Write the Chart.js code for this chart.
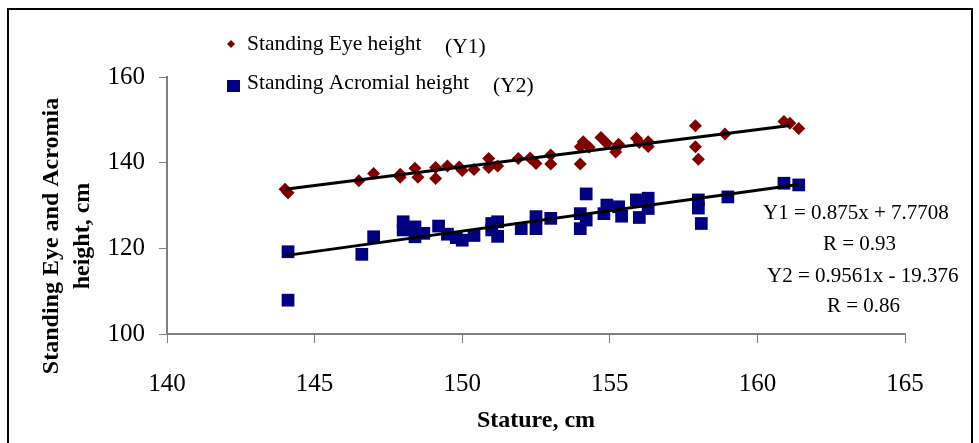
<!DOCTYPE html>
<html>
<head>
<meta charset="utf-8">
<script src="https://cdn.jsdelivr.net/npm/chart.js@4.4.1/dist/chart.umd.min.js"></script>
<style>
  body { margin: 0; background: #fff; }
  #wrap { position: relative; width: 979px; height: 443px; overflow: hidden; }
  #frame { position: absolute; left: 7px; top: 8px; width: 966px; height: 460px; border: 2px solid #000; box-sizing: border-box; }
  canvas { position: absolute; left: 0; top: 0; }
</style>
</head>
<body>
<div id="wrap">
  <div id="frame"></div>
  <canvas id="chart" width="979" height="443"></canvas>
</div>
<script>
// Standing eye height (Y1) against stature
const statureEye = [144.0, 144.1, 146.5, 147.0, 147.9, 147.9, 148.4, 148.5, 149.1, 149.1,
    149.5, 149.9, 150.0, 150.4, 150.9, 150.9, 151.2, 151.9, 152.3, 152.5,
    153.0, 153.0, 154.0, 154.0, 154.1, 154.3, 154.7, 154.9, 155.2, 155.2,
    155.3, 155.9, 156.0, 156.3, 156.3, 157.9, 157.9, 158.0, 158.9, 160.9,
    161.1, 161.4];
const eyeHeight = [133.8, 133.0, 135.8, 137.5, 137.3, 136.6, 138.7, 136.6, 138.9, 136.3,
    139.2, 139.0, 138.2, 138.4, 141.0, 138.9, 139.2, 141.0, 141.1, 139.8,
    141.8, 139.7, 143.7, 139.7, 144.9, 143.6, 145.9, 144.5, 143.3, 142.5,
    144.3, 145.7, 144.7, 144.9, 143.8, 148.6, 143.7, 140.8, 146.7, 149.6,
    149.2, 148.0];

// Standing acromial height (Y2) against stature
const statureAcromial = [144.1, 144.1, 146.6, 147.0, 148.0, 148.0, 148.4, 148.4, 148.7, 149.2,
    149.5, 149.8, 150.0, 150.4, 151.0, 151.0, 151.2, 151.2, 152.0, 152.5,
    152.5, 153.0, 154.0, 154.0, 154.2, 154.2, 154.8, 154.9, 155.3, 155.4,
    155.9, 156.0, 156.3, 156.3, 158.0, 158.0, 158.1, 159.0, 160.9, 161.4];
const acromialHeight = [119.2, 107.9, 118.6, 122.7, 126.2, 124.3, 125.0, 122.7, 123.5, 125.2,
    123.3, 122.5, 121.9, 123.0, 125.8, 124.3, 126.2, 122.8, 124.6, 127.4,
    124.6, 127.0, 128.1, 124.6, 132.7, 126.6, 128.1, 130.1, 129.7, 127.5,
    131.3, 127.2, 131.7, 129.3, 131.3, 129.4, 125.8, 132.0, 135.2, 134.8];

// trend line ends
const trendEyeX = [144.0, 161.1];
const trendEyeY = [133.8, 148.7];
const trendAcromialX = [144.0, 161.4];
const trendAcromialY = [118.3, 134.9];

const xTicks = [140, 145, 150, 155, 160, 165];
const yTicks = [100, 120, 140, 160];

const seriesLabels = ['Standing Eye height', 'Standing Acromial height'];
const seriesTags = ['(Y1)', '(Y2)'];
const equationLines = ['Y1 = 0.875x + 7.7708', 'R = 0.93', 'Y2 = 0.9561x - 19.376', 'R = 0.86'];
const xTitle = 'Stature, cm';
const yTitle = ['Standing Eye and Acromia', 'height, cm'];

const serif = '"Liberation Serif", "Times New Roman", serif';
const eyeColor = '#800000';
const acromialColor = '#000080';

function toPoints(xs, ys) {
    return xs.map((x, i) => ({ x: x, y: ys[i] }));
}

// texts that sit outside Chart.js' own boxes: legend, equations, axis titles
const annotations = {
    id: 'annotations',
    afterDraw(chart) {
        const ctx = chart.ctx;
        ctx.save();
        ctx.fillStyle = '#000';
        ctx.textBaseline = 'alphabetic';

        // legend
        ctx.font = '21.5px ' + serif;
        ctx.fillStyle = eyeColor;
        ctx.beginPath();
        ctx.moveTo(231, 40); ctx.lineTo(235, 44); ctx.lineTo(231, 48); ctx.lineTo(227, 44);
        ctx.closePath();
        ctx.fill();
        ctx.fillStyle = acromialColor;
        ctx.fillRect(227, 80, 13, 12);
        ctx.fillStyle = '#000';
        ctx.fillText(seriesLabels[0], 247, 50);
        ctx.fillText(seriesTags[0], 445, 53);
        ctx.fillText(seriesLabels[1], 247, 89);
        ctx.fillText(seriesTags[1], 493, 92);

        // regression equations
        ctx.font = '21px ' + serif;
        ctx.fillText(equationLines[0], 763, 219);
        ctx.fillText(equationLines[1], 823, 250);
        ctx.fillText(equationLines[2], 767, 282);
        ctx.fillText(equationLines[3], 827, 312);

        // axis titles
        ctx.font = 'bold 24px ' + serif;
        ctx.textAlign = 'center';
        ctx.textBaseline = 'middle';
        ctx.fillText(xTitle, 536, 421);
        ctx.translate(52, 236);
        ctx.rotate(-Math.PI / 2);
        ctx.fillText(yTitle[0], 0, 0);
        ctx.fillText(yTitle[1], 0, 31);
        ctx.restore();
    }
};

const ctx = document.getElementById('chart').getContext('2d');
new Chart(ctx, {
    type: 'scatter',
    data: {
        datasets: [
            {
                data: toPoints(trendEyeX, trendEyeY),
                showLine: true,
                borderColor: '#000',
                borderWidth: 3,
                pointRadius: 0
            },
            {
                data: toPoints(trendAcromialX, trendAcromialY),
                showLine: true,
                borderColor: '#000',
                borderWidth: 3,
                pointRadius: 0
            },
            {
                label: seriesLabels[0],
                data: toPoints(statureEye, eyeHeight),
                pointStyle: 'rectRot',
                pointRadius: 6.5,
                borderWidth: 0,
                backgroundColor: eyeColor
            },
            {
                label: seriesLabels[1],
                data: toPoints(statureAcromial, acromialHeight),
                pointStyle: 'rect',
                pointRadius: 9,
                borderWidth: 0,
                backgroundColor: acromialColor
            }
        ]
    },
    options: {
        responsive: false,
        animation: false,
        layout: { padding: { left: 0, top: 77, right: 74, bottom: 0 } },
        plugins: { legend: { display: false }, tooltip: { enabled: false } },
        scales: {
            x: {
                type: 'linear',
                min: xTicks[0],
                max: xTicks[xTicks.length - 1],
                afterBuildTicks: (scale) => { scale.ticks = xTicks.map(v => ({ value: v })); },
                afterFit: (scale) => { scale.height = 109; },
                border: { display: true, color: '#808080', width: 2 },
                grid: { drawOnChartArea: false, drawTicks: true, tickLength: 9, color: '#808080', lineWidth: 1 },
                ticks: { color: '#000', padding: 26, font: { family: serif, size: 25 }, maxRotation: 0 }
            },
            y: {
                type: 'linear',
                min: yTicks[0],
                max: yTicks[yTicks.length - 1],
                afterBuildTicks: (scale) => { scale.ticks = yTicks.map(v => ({ value: v })); },
                afterFit: (scale) => { scale.width = 167; },
                border: { display: true, color: '#808080', width: 2 },
                grid: { drawOnChartArea: false, drawTicks: true, tickLength: 8, color: '#808080', lineWidth: 1 },
                ticks: { color: '#000', padding: 14, font: { family: serif, size: 25 } }
            }
        }
    },
    plugins: [annotations]
});
</script>
</body>
</html>
